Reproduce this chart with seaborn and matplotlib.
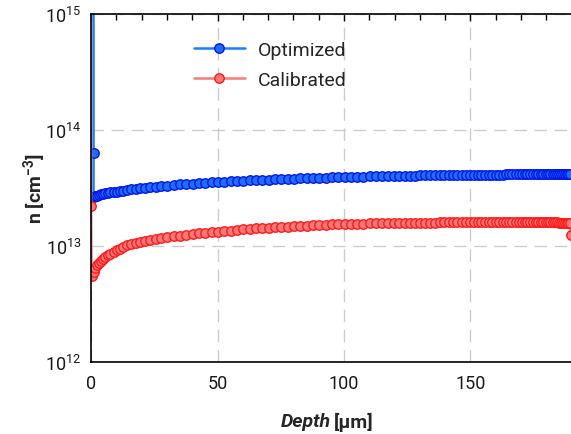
import numpy as np
import pandas as pd
import matplotlib
matplotlib.use("Agg")
import matplotlib.pyplot as plt
import seaborn as sns
from matplotlib.ticker import LogLocator, MultipleLocator, NullFormatter

# ---- data -------------------------------------------------------------
# depth grid of the simulated profiles [um]
depth = [
    1.0, 1.6, 2.3, 3.0, 3.8, 4.7, 5.6, 6.6, 7.7, 8.9,
    10.1, 11.4, 12.8, 14.3, 15.9, 17.6, 19.4, 21.3, 23.3, 25.5,
    27.8, 30.2, 32.7, 35.2, 37.7, 40.2, 42.7, 45.2, 47.7, 50.2,
    52.7, 55.2, 57.7, 60.2, 62.7, 65.2, 67.7, 70.2, 72.7, 75.2,
    77.7, 80.2, 82.7, 85.2, 87.7, 90.2, 92.7, 95.2, 97.7, 100.2,
    102.7, 105.2, 107.7, 110.2, 112.6, 115.0, 117.3, 119.6, 121.8, 124.0,
    126.1, 128.2, 130.2, 132.2, 134.1, 136.0, 137.8, 139.6, 141.4, 143.1,
    144.8, 146.5, 148.1, 149.7, 151.3, 152.8, 154.3, 155.8, 157.2, 158.6,
    160.0, 161.4, 162.7, 164.0, 165.3, 166.6, 167.8, 169.0, 170.2, 171.4,
    172.5, 173.6, 174.7, 175.8, 176.8, 177.8, 178.8, 179.8, 180.7, 181.6,
    182.5, 183.4, 184.2, 185.0, 185.8, 186.6, 187.3, 188.0, 188.7, 189.3,
]

# carrier density, optimized parameter set [1e13 cm^-3]
n_optimized = [
    2.65, 2.69, 2.72, 2.75, 2.78, 2.81, 2.84, 2.87, 2.90, 2.92,
    2.94, 2.97, 3.00, 3.03, 3.07, 3.10, 3.14, 3.18, 3.21, 3.25,
    3.29, 3.32, 3.36, 3.39, 3.42, 3.45, 3.48, 3.51, 3.54, 3.56,
    3.58, 3.61, 3.63, 3.65, 3.67, 3.69, 3.71, 3.73, 3.75, 3.77,
    3.78, 3.80, 3.82, 3.84, 3.85, 3.87, 3.88, 3.90, 3.91, 3.93,
    3.94, 3.95, 3.97, 3.98, 3.99, 4.00, 4.01, 4.02, 4.03, 4.04,
    4.05, 4.05, 4.06, 4.07, 4.07, 4.08, 4.09, 4.09, 4.10, 4.10,
    4.10, 4.11, 4.11, 4.11, 4.12, 4.12, 4.12, 4.13, 4.13, 4.13,
    4.13, 4.13, 4.13, 4.14, 4.14, 4.14, 4.14, 4.14, 4.14, 4.14,
    4.15, 4.15, 4.15, 4.15, 4.15, 4.15, 4.15, 4.15, 4.15, 4.15,
    4.15, 4.15, 4.15, 4.15, 4.15, 4.15, 4.15, 4.15, 4.15, 4.15,
]

# carrier density, calibrated parameter set [1e13 cm^-3]
n_calibrated = [
    0.60, 0.64, 0.68, 0.71, 0.74, 0.77, 0.80, 0.83, 0.86, 0.89,
    0.92, 0.95, 0.98, 1.01, 1.04, 1.06, 1.08, 1.10, 1.12, 1.14,
    1.17, 1.19, 1.21, 1.23, 1.25, 1.27, 1.29, 1.30, 1.32, 1.33,
    1.35, 1.36, 1.38, 1.39, 1.40, 1.42, 1.43, 1.44, 1.45, 1.46,
    1.47, 1.48, 1.49, 1.50, 1.51, 1.52, 1.53, 1.535, 1.54, 1.545,
    1.55, 1.555, 1.56, 1.565, 1.57, 1.573, 1.576, 1.58, 1.583, 1.586,
    1.588, 1.59, 1.59, 1.592, 1.593, 1.594, 1.595, 1.596, 1.597, 1.598,
    1.60, 1.60, 1.60, 1.60, 1.60, 1.60, 1.60, 1.60, 1.60, 1.60,
    1.60, 1.60, 1.60, 1.60, 1.60, 1.60, 1.60, 1.60, 1.60, 1.60,
    1.60, 1.60, 1.60, 1.60, 1.60, 1.60, 1.60, 1.60, 1.60, 1.60,
    1.60, 1.60, 1.60, 1.59, 1.59, 1.59, 1.59, 1.59, 1.58, 1.58,
]

# surface points preceding each profile (depth [um], density [1e13 cm^-3])
surface_depth_optimized = [1.0, 1.0]
surface_n_optimized = [1.0e4, 6.3]
surface_depth_calibrated = [0.0, 0.0, 0.2]
surface_n_calibrated = [1.0e4, 2.2, 0.55]
# back-contact point of the calibrated profile
end_depth_calibrated = [189.6]
end_n_calibrated = [1.25]

UNIT = 1e13

df_opt = pd.DataFrame({
    "depth": surface_depth_optimized + depth,
    "n": np.array(surface_n_optimized + n_optimized) * UNIT,
})
df_cal = pd.DataFrame({
    "depth": surface_depth_calibrated + depth + end_depth_calibrated,
    "n": np.array(surface_n_calibrated + n_calibrated + end_n_calibrated) * UNIT,
})

# ---- style ------------------------------------------------------------
sns.set_theme(style="white")
plt.rcParams["font.family"] = ["Roboto", "DejaVu Sans"]
plt.rcParams["mathtext.default"] = "regular"

W, H = 571, 435
X_MAX = 198.0
PX_PER_UM = 2.53
fig = plt.figure(figsize=(W / 100, H / 100), dpi=100)
ax = fig.add_axes([91 / W, 72 / H, X_MAX * PX_PER_UM / W, 348 / H])

sns.lineplot(data=df_opt, x="depth", y="n", sort=False, estimator=None,
             ax=ax, color="#1a80ff", linewidth=1.8, marker="o",
             markersize=6.8, markerfacecolor="#1f6dff",
             markeredgecolor="#0018e8", markeredgewidth=1.0,
             label="Optimized")
sns.lineplot(data=df_cal, x="depth", y="n", sort=False, estimator=None,
             ax=ax, color="#f58282", linewidth=1.9, marker="o",
             markersize=6.8, markerfacecolor="#ff7878",
             markeredgecolor="#ff1a1a", markeredgewidth=1.0,
             label="Calibrated")

ax.set_yscale("log")
ax.set_xlim(0, X_MAX)
ax.set_ylim(1e12, 1e15)

ax.xaxis.set_major_locator(MultipleLocator(50))
ax.xaxis.set_minor_locator(MultipleLocator(10))
ax.yaxis.set_major_locator(LogLocator(base=10))
ax.yaxis.set_minor_locator(LogLocator(base=10, subs=np.arange(2, 10)))
ax.yaxis.set_minor_formatter(NullFormatter())

ax.tick_params(which="both", direction="in", top=True, right=True,
               colors="black", labelcolor="#1a1a1a")
ax.tick_params(which="major", length=5, width=1.0, labelsize=13)
ax.tick_params(axis="x", which="major", pad=9)
ax.tick_params(axis="y", which="major", pad=7)
ax.tick_params(which="minor", length=4, width=1.0)

ax.grid(True, which="major", color="#cccccc", linestyle=(0, (9, 5.5)),
        linewidth=1.0)
ax.set_axisbelow(True)
for s in ax.spines.values():
    s.set_color("black")
    s.set_linewidth(1.2)

ax.set_xlabel("")
ax.set_ylabel("n [cm$^{-3}$]", fontsize=14, fontweight="bold", labelpad=-2)

fig.text(331 / W, (H - 422) / H, "Depth", ha="right", va="center",
         fontsize=14, fontweight="bold", fontstyle="italic")
fig.text(334 / W, (H - 422) / H, "[µm]", ha="left", va="center",
         fontsize=14, fontweight="bold")

leg = ax.legend(loc="upper left", bbox_to_anchor=(0.19, 0.945), frameon=False,
                fontsize=14, handlelength=2.6, handletextpad=0.7,
                labelspacing=0.6, borderaxespad=0)

fig.savefig("out.png", dpi=100)
